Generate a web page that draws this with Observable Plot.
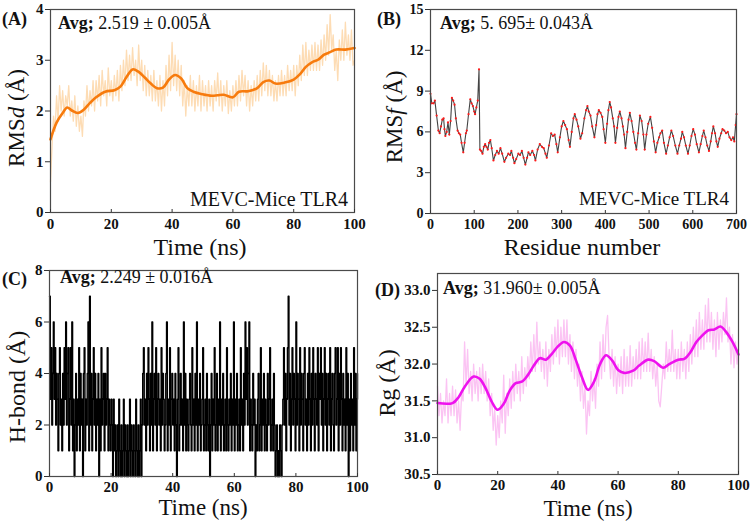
<!DOCTYPE html>
<html><head><meta charset="utf-8">
<script src="https://cdn.jsdelivr.net/npm/d3@7"></script>
<script src="https://cdn.jsdelivr.net/npm/@observablehq/plot@0.6"></script>
<style>
body{margin:0;background:#fff;}
#wrap{position:relative;width:750px;height:521px;overflow:hidden;background:#fff;}
.panel{position:absolute;}
</style></head><body><div id="wrap"></div>
<script>
// ---------- Panel A: RMSd ----------
const aRaw = [
0.6,1.3,1.9,1.6,2.3,1.8,2.5,2.0,2.4,1.9,
2.3,2.1,2.5,1.9,2.2,1.8,2.3,1.7,2.1,1.6,
1.9,1.5,2.2,1.9,2.5,2.0,2.4,2.1,2.6,2.0,
2.6,2.2,2.7,2.1,2.8,2.3,2.6,2.1,2.85,2.3,
2.6,2.2,2.7,2.3,2.8,2.2,2.9,2.4,3.0,2.5,
3.2,2.6,3.1,2.6,3.25,2.7,3.0,2.5,3.3,2.6,
3.0,2.4,2.9,2.3,2.8,2.3,2.7,2.2,2.8,2.2,
2.6,2.1,2.7,2.0,2.6,2.1,2.9,2.3,3.1,2.4,
3.35,2.5,3.1,2.4,3.0,2.3,2.9,2.1,2.6,1.9,
2.5,2.1,2.7,2.1,2.6,2.0,2.5,2.1,2.7,2.0,
2.6,2.1,2.5,2.0,2.6,2.1,2.5,2.0,2.6,2.2,
2.75,2.1,2.6,2.0,2.5,2.1,2.6,1.95,2.4,2.0,
2.5,2.1,2.6,2.1,2.7,2.2,2.8,2.3,2.7,2.1,
2.6,2.0,2.5,2.1,2.6,2.2,2.7,2.2,2.8,2.3,
2.95,2.4,2.9,2.3,2.8,2.3,2.7,2.2,2.6,2.2,
2.7,2.3,2.8,2.3,2.7,2.3,2.9,2.4,2.8,2.4,
2.9,2.3,2.9,2.5,3.1,2.6,3.3,2.7,3.35,2.7,
3.2,2.8,3.3,2.8,3.35,2.8,3.3,2.8,3.4,2.9,
3.5,3.0,3.7,3.1,3.9,3.2,3.5,2.8,3.2,2.6,
3.4,3.0,3.6,3.0,3.75,3.1,3.5,3.0,3.6,2.9,
3.0];
const aSmoothT = [0,2,4,5.5,7,9,11,13,15,18,21,23,25,27,29,31,33,35,37,39,41,43,45,47,50,53,55,57,60,62,65,68,70,72,74,77,80,82,84,86,88,90,92,94,97,100];
const aSmoothV = [1.44,1.77,1.96,2.07,2.01,1.96,2.03,2.16,2.27,2.38,2.41,2.48,2.67,2.82,2.77,2.66,2.54,2.45,2.46,2.62,2.71,2.64,2.45,2.38,2.33,2.30,2.31,2.32,2.27,2.38,2.39,2.45,2.57,2.60,2.54,2.56,2.62,2.72,2.87,2.96,3.01,3.11,3.16,3.21,3.21,3.24];
const aXTicks = [0,20,40,60,80,100];
const aYTicks = [0,1,2,3,4];

// ---------- Panel B: RMSf ----------
const bRes = [0,3,7,10,14,18,21,24,27,30,32,34,37,40,43,46,49,52,55,58,62,65,68,71,75,78,81,83,87,91,94,97,100,102,105,108,111,113,116,119,122,125,128,131,134,137,140,144,148,152,156,160,164,169,173,178,182,185,189,192,196,201,205,209,213,217,221,224,228,233,237,240,245,250,255,259,263,266,271,276,280,284,288,291,296,300,304,308,312,316,319,323,327,330,334,338,343,347,352,356,359,362,366,370,375,379,382,385,389,393,396,400,404,407,410,413,417,420,423,427,430,433,437,440,443,446,450,453,456,460,464,468,471,475,479,483,487,490,494,498,503,507,511,515,519,523,526,530,534,539,543,547,551,555,560,565,569,573,576,580,584,589,593,597,601,605,609,614,618,622,625,629,633,637,641,644,647,651,654,657,661,665,668,672,676,680,684,688,692,695,698,700];
const bVal = [8.8,8.1,8.1,8.3,7.2,6.1,5.9,6.4,6.9,7.0,6.2,5.7,6.0,6.7,5.8,6.8,8.5,8.3,8.0,7.0,6.1,5.9,5.8,5.2,4.5,5.2,5.9,6.1,7.3,8.4,8.1,7.9,7.5,7.3,7.8,8.3,10.6,4.7,4.6,4.4,4.9,5.1,4.9,4.7,5.2,5.4,4.8,3.9,4.3,4.6,4.4,4.8,4.4,3.8,4.1,4.4,4.3,4.6,4.1,3.7,4.0,4.4,4.3,4.6,4.1,3.6,4.1,4.5,4.3,4.6,4.3,3.9,4.7,5.1,4.9,4.8,4.4,4.1,5.0,5.9,5.7,5.8,5.1,4.5,5.6,6.4,6.8,6.5,6.2,5.4,4.9,6.0,7.0,7.3,6.9,6.4,5.5,5.9,7.0,7.6,7.9,7.5,7.2,6.4,5.6,6.5,7.3,7.6,7.4,7.1,6.2,5.2,6.6,7.6,8.2,7.8,7.0,6.4,5.2,6.3,7.1,7.5,7.0,6.4,5.8,4.8,6.0,6.9,7.4,6.8,6.0,5.2,4.7,5.9,7.2,6.8,5.8,4.7,5.8,6.6,7.1,6.3,5.3,4.5,5.2,5.6,5.9,6.1,5.2,4.4,5.0,5.6,6.1,5.7,5.0,4.4,5.0,5.5,6.0,5.6,5.0,4.4,5.0,5.7,6.2,5.8,5.1,4.5,5.1,5.7,6.1,5.6,5.0,4.6,5.3,5.9,6.4,5.9,5.3,4.9,5.5,5.9,6.2,6.1,5.9,6.0,5.6,5.4,5.6,5.3,6.5,7.3];
const bXTicks = [0,100,200,300,400,500,600,700];
const bYTicks = [0,3,6,9,12,15];

// ---------- Panel C: H-bond ----------
const cHbond = [
7,3,5,2,4,6,3,5,2,4,3,
1,4,5,2,3,1,4,2,5,3,
6,2,4,5,1,3,5,2,6,1,
3,0,2,4,1,3,2,5,1,4,
2,3,0,4,5,1,3,2,4,6,
1,7,2,4,1,3,5,2,4,1,
3,2,4,0,3,1,5,2,3,4,
1,4,2,3,5,1,3,2,1,3,
2,0,3,1,2,0,1,2,0,3,
1,0,2,0,1,3,0,2,1,0,
2,0,1,3,0,2,1,0,2,1,
0,3,1,0,2,0,1,3,0,2,
4,5,2,3,1,4,2,5,3,1,
4,2,6,1,3,4,2,5,1,3,
4,2,3,1,5,2,4,3,1,2,
4,6,1,3,2,5,1,3,4,2,
3,1,4,2,0,3,5,1,2,4,
2,3,1,6,2,4,1,3,2,1,
3,4,2,1,5,2,3,1,4,2,
6,1,3,2,4,1,2,3,5,1,
2,3,1,4,2,1,3,0,2,4,
1,3,2,5,1,2,4,1,3,2,
6,1,3,2,4,1,2,3,1,5,
2,1,3,2,4,1,3,2,6,1,
3,2,4,1,2,3,1,5,2,3,
1,4,2,6,3,5,2,4,6,1,
3,2,1,4,2,3,0,2,1,3,
4,1,2,5,1,3,2,4,1,3,
2,1,4,2,3,5,1,2,3,1,
4,2,0,1,2,0,1,0,2,1,
0,2,3,5,2,4,1,3,5,7,
2,4,1,3,5,2,4,3,1,6,
2,4,3,1,5,2,4,3,1,4,
5,2,3,1,4,2,5,3,1,4,
2,5,3,1,4,3,2,5,1,4,
3,5,2,4,1,3,5,2,4,1,
3,4,2,5,1,3,4,2,1,4,
5,2,3,5,1,4,2,5,3,1,
4,2,3,1,5,2,4,0,3,1,
4,2,3,1,5,2,4,1,3,4];
const cXTicks = [0,20,40,60,80,100];
const cYTicks = [0,2,4,6,8];

// ---------- Panel D: Rg ----------
const dRaw = [
31.7,31.3,31.6,31.2,31.5,31.3,31.8,31.2,31.6,31.3,
31.7,31.3,31.65,31.2,31.5,31.1,31.6,31.5,32.3,31.7,
32.2,31.6,31.9,31.5,32.0,31.6,31.9,31.5,31.95,31.6,
32.0,31.6,31.9,31.5,31.8,31.3,31.6,31.1,31.4,30.9,
31.3,31.0,31.5,31.2,31.85,31.06,31.6,31.3,31.8,31.4,
31.9,31.5,32.0,31.6,31.9,31.5,32.1,31.6,31.95,31.7,
32.1,31.8,32.3,31.9,32.4,31.9,32.57,32.0,32.3,31.9,
32.2,31.8,32.3,31.7,32.2,31.9,32.4,32.0,32.5,32.1,
32.6,32.0,32.5,32.1,32.6,32.1,32.6,32.0,32.4,31.9,
32.3,31.8,32.2,31.7,32.0,31.5,31.9,31.4,31.7,31.05,
31.5,31.3,31.9,31.5,31.8,31.4,32.0,31.7,32.3,31.8,
32.4,31.9,32.5,32.66,32.1,31.8,32.2,31.7,32.1,31.6,
32.0,31.7,32.1,31.6,32.2,31.7,32.1,31.7,32.25,31.7,
32.1,31.8,32.2,31.8,32.3,31.8,32.35,31.9,32.3,31.9,
32.42,31.9,32.2,31.8,32.1,31.7,32.0,31.5,31.42,31.7,
32.0,31.8,32.3,31.9,32.2,31.9,32.46,31.9,32.2,31.8,
32.2,31.8,32.3,31.9,32.2,31.8,32.3,31.9,32.4,32.0,
32.5,32.1,32.6,32.1,32.7,32.2,32.6,32.2,32.8,32.3,
32.89,32.3,32.7,32.2,32.6,32.1,32.7,32.2,32.6,32.3,
32.7,32.4,32.9,32.3,32.5,32.0,32.4,31.95,32.3,32.0,
32.2];
const dSmoothT = [0,5,7,9,12,14,16,18,20,22,24,26,28,30,32,34,36,38,40,42,44,46,48,50,52,54,56,58,60,62,65,67,70,72,75,77,80,82,84,86,88,90,92,94,96,98,100];
const dSmoothV = [31.47,31.47,31.55,31.69,31.83,31.80,31.67,31.49,31.38,31.46,31.64,31.74,31.76,31.85,31.98,32.08,32.06,32.14,32.24,32.30,32.25,32.05,31.82,31.65,31.76,32.0,32.12,32.05,31.92,31.88,31.91,31.98,32.06,32.04,31.95,32.0,32.06,32.07,32.16,32.30,32.39,32.46,32.47,32.51,32.43,32.30,32.13];
const dXTicks = [0,20,40,60,80,100];
const dYTicks = [30.5,31.0,31.5,32.0,32.5,33.0];

// ---------- helpers ----------
const FONT = '"Liberation Serif", "Times New Roman", Times, serif';
const wrap = document.getElementById("wrap");
const series = (vals) => vals.map((v, i) => ({t: i * 100 / (vals.length - 1), v}));
const pairs = (ts, vs) => ts.map((t, i) => ({t, v: vs[i]}));

function panel({left, top, width = 375, height = 260, m, xDomain, yDomain, xTicks, yTicks, yFormat = "d", tickFont = 15, tickPad = 9, marks}) {
  const svg = Plot.plot({
    width, height,
    marginLeft: m[0], marginRight: m[1], marginTop: m[2], marginBottom: m[3],
    style: {fontFamily: FONT, overflow: "visible", background: "transparent", color: "#111"},
    x: {domain: xDomain},
    y: {domain: yDomain},
    marks: [
      ...marks,
      Plot.frame({stroke: "#4a4a4a", strokeWidth: 1.2}),
      Plot.axisX({ticks: xTicks, tickSize: -3, tickPadding: tickPad, fontSize: tickFont, fontWeight: "bold", label: null, tickFormat: "d", stroke: "#333"}),
      Plot.axisY({ticks: yTicks, tickSize: 5, tickPadding: 2, fontSize: tickFont, fontWeight: "bold", label: null, tickFormat: yFormat, stroke: "#333"})
    ]
  });
  const d = document.createElement("div");
  d.className = "panel";
  d.style.left = left + "px";
  d.style.top = top + "px";
  d.appendChild(svg);
  wrap.appendChild(d);
  return svg;
}

function txt(svg, x, y, parts, {size = 18, anchor = "start", rotate = 0} = {}) {
  const t = d3.select(svg).append("text")
    .attr("font-family", FONT).attr("font-size", size)
    .attr("text-anchor", anchor).attr("fill", "#111")
    .style("white-space", "pre");
  if (rotate) t.attr("transform", `translate(${x},${y}) rotate(${rotate})`);
  else t.attr("x", x).attr("y", y);
  for (const p of parts) {
    const s = t.append("tspan").text(p.t);
    if (p.b) s.attr("font-weight", "bold");
    if (p.i) s.attr("font-style", "italic");
  }
}

// ---------- A ----------
const svgA = panel({
  left: 0, top: 0, m: [50, 21, 9, 48],
  xDomain: [0, 100], yDomain: [0, 4], xTicks: aXTicks, yTicks: aYTicks,
  marks: [
    Plot.line(series(aRaw), {x: "t", y: "v", stroke: "#fddcb4", strokeWidth: 1.3}),
    Plot.line(pairs(aSmoothT, aSmoothV), {x: "t", y: "v", stroke: "#f77b0d", strokeWidth: 2.6, curve: "catmull-rom"})
  ]
});
txt(svgA, 2, 25, [{t: "(A)", b: true}], {size: 18});
txt(svgA, 58, 29, [{t: "Avg;", b: true}, {t: " 2.519 ± 0.005Å"}], {size: 18});
txt(svgA, 348, 206, [{t: "MEVC-Mice TLR4"}], {size: 20, anchor: "end"});
txt(svgA, 24, 118, [{t: "RMS"}, {t: "d", i: true}, {t: " (Å)"}], {size: 23, anchor: "middle", rotate: -90});
txt(svgA, 200, 255, [{t: "Time (ns)"}], {size: 24, anchor: "middle"});

// ---------- B ----------
const bData = pairs(bRes, bVal);
const svgB = panel({
  left: 375, top: 0, m: [55, 14, 9, 47],
  xDomain: [0, 700], yDomain: [0, 15], xTicks: bXTicks, yTicks: bYTicks, tickFont: 14,
  marks: [
    Plot.line(bData, {x: "t", y: "v", stroke: "#444", strokeWidth: 1.1}),
    Plot.dot(bData, {x: "t", y: "v", r: 1.1, fill: "#ff1a1a", stroke: "none"})
  ]
});
txt(svgB, 2, 25, [{t: "(B)", b: true}], {size: 18});
txt(svgB, 65, 29, [{t: "Avg;", b: true}, {t: " 5. 695± 0.043Å"}], {size: 18});
txt(svgB, 354, 205, [{t: "MEVC-Mice TLR4"}], {size: 19, anchor: "end"});
txt(svgB, 27, 117, [{t: "RMS"}, {t: "f", i: true}, {t: " (Å)"}], {size: 23, anchor: "middle", rotate: -90});
txt(svgB, 207, 255, [{t: "Residue number"}], {size: 24, anchor: "middle"});

// ---------- C ----------
const svgC = panel({
  left: 0, top: 260, height: 261, m: [49, 18, 10, 45], tickPad: 8,
  xDomain: [0, 100], yDomain: [0, 8], xTicks: cXTicks, yTicks: cYTicks,
  marks: [
    Plot.line(series(cHbond), {x: "t", y: "v", stroke: "#000", strokeWidth: 1.4, curve: "step-after"})
  ]
});
txt(svgC, 2, 25, [{t: "(C)", b: true}], {size: 18});
txt(svgC, 60, 23, [{t: "Avg;", b: true}, {t: " 2.249 ± 0.016Å"}], {size: 18});
txt(svgC, 25, 127, [{t: "H-bond (Å)"}], {size: 24, anchor: "middle", rotate: -90});
txt(svgC, 203, 255, [{t: "Time (ns)"}], {size: 23, anchor: "middle"});

// ---------- D ----------
const svgD = panel({
  left: 375, top: 260, height: 261, m: [62, 12, 13, 47], tickPad: 8,
  xDomain: [0, 100], yDomain: [30.5, 33.23], xTicks: dXTicks, yTicks: dYTicks, yFormat: ".1f",
  marks: [
    Plot.line(series(dRaw), {x: "t", y: "v", stroke: "#fbc3f3", strokeWidth: 1.3}),
    Plot.line(pairs(dSmoothT, dSmoothV), {x: "t", y: "v", stroke: "#ee12ee", strokeWidth: 2.6, curve: "catmull-rom"})
  ]
});
txt(svgD, 0, 36, [{t: "(D)", b: true}], {size: 18});
txt(svgD, 68, 34, [{t: "Avg;", b: true}, {t: " 31.960± 0.005Å"}], {size: 18});
txt(svgD, 20, 123, [{t: "Rg (Å)"}], {size: 24, anchor: "middle", rotate: -90});
txt(svgD, 213, 256, [{t: "Time (ns)"}], {size: 23, anchor: "middle"});
</script></body></html>
